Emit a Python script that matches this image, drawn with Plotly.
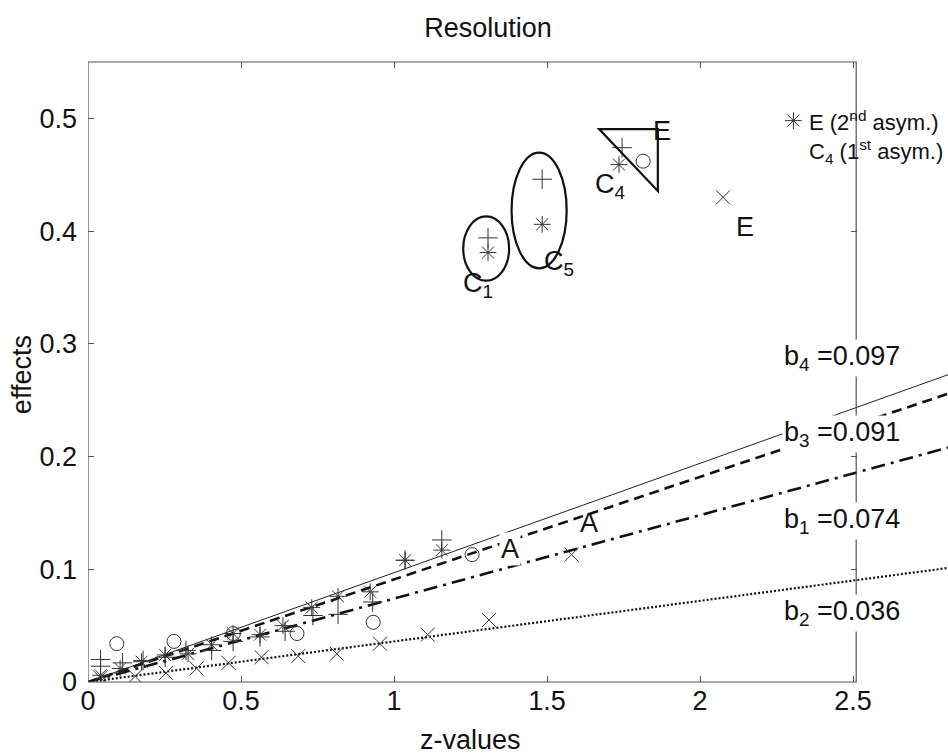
import plotly.graph_objects as go

# ---------------- data ----------------
z_plus = [0.041, 0.041, 0.113, 0.18, 0.252, 0.32, 0.404, 0.474, 0.562, 0.644, 0.735, 0.817, 0.93, 1.036, 1.156, 1.307, 1.484, 1.745]
v_plus = [0.020, 0.014, 0.017, 0.019, 0.022, 0.028, 0.028, 0.036, 0.040, 0.045, 0.059, 0.060, 0.071, 0.108, 0.126, 0.394, 0.446, 0.474]

z_star = [0.041, 0.105, 0.175, 0.252, 0.327, 0.404, 0.474, 0.562, 0.637, 0.731, 0.817, 0.922, 1.036, 1.156, 1.307, 1.484, 1.735]
v_star = [0.006, 0.012, 0.018, 0.024, 0.025, 0.033, 0.043, 0.042, 0.050, 0.066, 0.076, 0.080, 0.108, 0.117, 0.381, 0.406, 0.459]

z_circ = [0.094, 0.281, 0.475, 0.683, 0.932, 1.255, 1.814]
v_circ = [0.034, 0.036, 0.043, 0.043, 0.053, 0.113, 0.462]

z_x = [0.04, 0.154, 0.255, 0.355, 0.459, 0.567, 0.687, 0.813, 0.954, 1.11, 1.31, 1.58, 2.075]
v_x = [0.004, 0.005, 0.008, 0.012, 0.017, 0.022, 0.023, 0.025, 0.034, 0.042, 0.055, 0.113, 0.43]

slope_names = ["b4", "b3", "b1", "b2"]
slopes = [0.097, 0.091, 0.074, 0.036]
slope_label_y = [0.287, 0.220, 0.143, 0.061]

x_ticks = [0, 0.5, 1, 1.5, 2, 2.5]
x_tick_text = ["0", "0.5", "1", "1.5", "2", "2.5"]
y_ticks = [0, 0.1, 0.2, 0.3, 0.4, 0.5]
y_tick_text = ["0", "0.1", "0.2", "0.3", "0.4", "0.5"]

X_MAX = 2.81   # visible extent of the fitted lines (beyond the axes box)
BOX_X = 2.51   # right edge of the axes box
Y_MAX = 0.55

FONT = "Liberation Sans, Arial, Helvetica, sans-serif"
INK = "#111111"
MARK = "#333333"
FS = 27

fig = go.Figure()

# fitted lines
line_styles = [
    dict(width=1, dash="solid", color="#222222"),
    dict(width=2.6, dash="10px,6px", color=INK),
    dict(width=2.6, dash="14px,6px,3px,6px", color=INK),
    dict(width=2.2, dash="2px,2px", color=INK),
]
for b, st in zip(slopes, line_styles):
    fig.add_trace(go.Scatter(x=[0, X_MAX], y=[0, b * X_MAX], mode="lines",
                             line=st, hoverinfo="skip", showlegend=False))

# markers
msz = 14
def mk(symbol):
    return dict(symbol=symbol, size=msz, color=MARK, line=dict(width=1, color=MARK))

fig.add_trace(go.Scatter(x=z_plus, y=v_plus, mode="markers", showlegend=False, marker=mk("cross-thin-open")))
fig.add_trace(go.Scatter(x=z_star, y=v_star, mode="markers", showlegend=False, marker=mk("asterisk-open")))
fig.add_trace(go.Scatter(x=z_circ, y=v_circ, mode="markers", showlegend=False, marker=mk("circle-open")))
fig.add_trace(go.Scatter(x=z_x, y=v_x, mode="markers", showlegend=False, marker=mk("x-thin-open")))

# legend-like marker
fig.add_trace(go.Scatter(x=[2.305], y=[0.498], mode="markers", showlegend=False, marker=mk("asterisk-open")))

# dummy trace for right-side tick axis
fig.add_trace(go.Scatter(x=[None], y=[None], yaxis="y2", showlegend=False))

shapes = [
    # axes box
    dict(type="rect", xref="x", yref="paper", x0=0, x1=BOX_X, y0=0, y1=1,
         line=dict(color="#555555", width=1.2), layer="above"),
    # C1 ellipse
    dict(type="circle", xref="x", yref="y", x0=1.226, x1=1.376, y0=0.356, y1=0.413,
         line=dict(color=INK, width=2.2)),
    # C5 ellipse
    dict(type="circle", xref="x", yref="y", x0=1.384, x1=1.564, y0=0.367, y1=0.4696,
         line=dict(color=INK, width=2.2)),
    # triangle
    dict(type="path", xref="x", yref="y",
         path="M 1.670 0.4905 L 1.862 0.4905 L 1.862 0.4355 Z",
         line=dict(color=INK, width=2.2)),
]

ann = []
def add_text(x, y, text, size=FS, xanchor="center", bg=None):
    d = dict(x=x, y=y, xref="x", yref="y", text=text, showarrow=False,
             font=dict(family=FONT, size=size, color=INK), xanchor=xanchor, yanchor="middle")
    if bg:
        d["bgcolor"] = bg
    ann.append(d)

add_text(1.275, 0.352, "C<sub>1</sub>")
add_text(1.54, 0.372, "C<sub>5</sub>")
add_text(1.706, 0.440, "C<sub>4</sub>")
add_text(1.875, 0.489, "E")
add_text(2.147, 0.404, "E")
add_text(1.378, 0.118, "A", bg="white")
add_text(1.637, 0.141, "A")
add_text(2.350, 0.498, "E (2<sup>nd</sup> asym.)", size=22, xanchor="left")
add_text(2.350, 0.471, "C<sub>4</sub> (1<sup>st</sup> asym.)", size=22, xanchor="left")
for name, b, yy in zip(slope_names, slopes, slope_label_y):
    add_text(2.268, yy, f"{name[0]}<sub>{name[1]}</sub> ={b:.3f}", xanchor="left", bg="white")

# axis titles
ann.append(dict(x=(470 - 88) / 860, y=-0.094, xref="paper", yref="paper", text="z-values",
                showarrow=False, font=dict(family=FONT, size=FS, color=INK),
                xanchor="center", yanchor="middle"))
ann.append(dict(x=-0.0767, y=0.495, xref="paper", yref="paper", text="effects",
                showarrow=False, textangle=-90, font=dict(family=FONT, size=FS, color=INK),
                xanchor="center", yanchor="middle"))

fig.update_layout(
    width=948, height=754,
    margin=dict(l=88, r=0, t=62, b=72),
    paper_bgcolor="white", plot_bgcolor="white",
    title=dict(text="Resolution", x=(488) / 948, y=1 - 28 / 754, xanchor="center", yanchor="middle",
               font=dict(family=FONT, size=FS, color=INK)),
    xaxis=dict(range=[0, X_MAX], tickmode="array", tickvals=x_ticks, ticktext=x_tick_text,
               ticks="inside", ticklen=6, tickcolor="#555555", mirror="ticks",
               showline=False, showgrid=False, zeroline=False,
               tickfont=dict(family=FONT, size=FS, color=INK)),
    yaxis=dict(range=[0, Y_MAX], tickmode="array", tickvals=y_ticks, ticktext=y_tick_text,
               ticks="inside", ticklen=6, tickcolor="#555555",
               showline=False, showgrid=False, zeroline=False, ticklabelstandoff=10,
               tickfont=dict(family=FONT, size=FS, color=INK)),
    yaxis2=dict(range=[0, Y_MAX], overlaying="y", anchor="free", side="right",
                position=(857 - 88) / 860, tickmode="array", tickvals=y_ticks,
                ticks="inside", ticklen=6, tickcolor="#555555", showticklabels=False,
                showline=False, showgrid=False, zeroline=False),
    shapes=shapes,
    annotations=ann,
    showlegend=False,
)

fig.write_html("out.html")
